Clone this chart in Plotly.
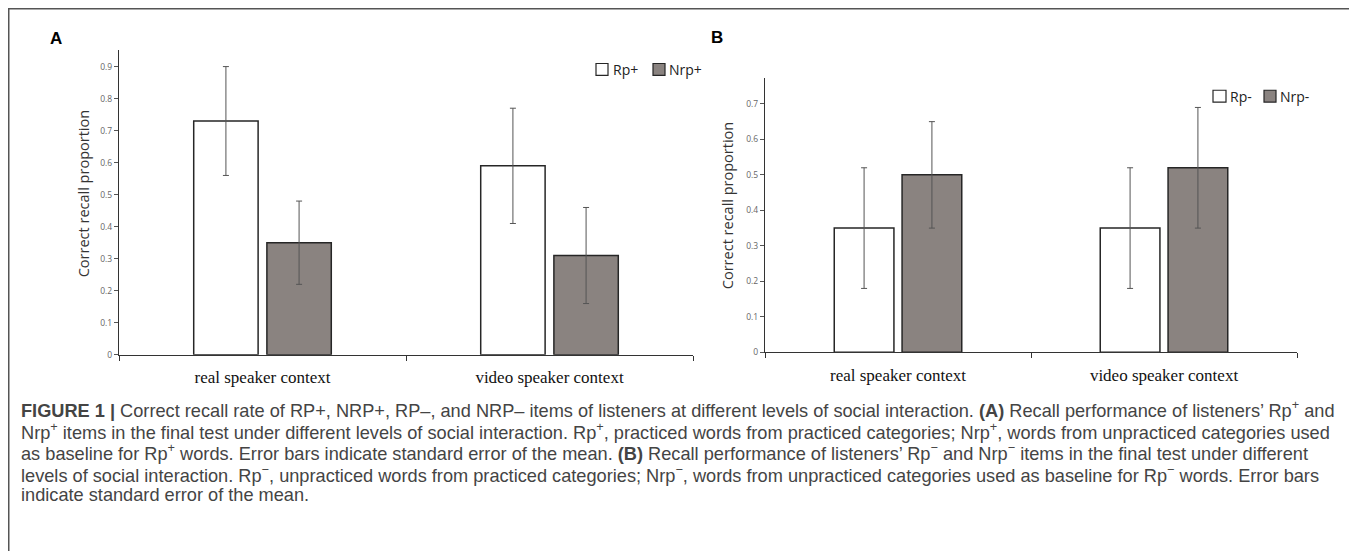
import plotly.graph_objects as go

# Page body has an 8px margin; figure is sized so the page fits the window exactly.
SCREEN_W, SCREEN_H = 1357, 559
OFF = 8
W, H = SCREEN_W - 2 * OFF, SCREEN_H - 2 * OFF

categories = ["real speaker context", "video speaker context"]

# Panel A
rp_plus = [0.73, 0.59]
rp_plus_err = [0.17, 0.18]
nrp_plus = [0.35, 0.31]
nrp_plus_err = [0.13, 0.15]
ticks_a = [0, 0.1, 0.2, 0.3, 0.4, 0.5, 0.6, 0.7, 0.8, 0.9]
ticklabels_a = ["0", "0.1", "0.2", "0.3", "0.4", "0.5", "0.6", "0.7", "0.8", "0.9"]

# Panel B
rp_minus = [0.35, 0.35]
rp_minus_err = [0.17, 0.17]
nrp_minus = [0.50, 0.52]
nrp_minus_err = [0.15, 0.17]
ticks_b = [0, 0.1, 0.2, 0.3, 0.4, 0.5, 0.6, 0.7]
ticklabels_b = ["0", "0.1", "0.2", "0.3", "0.4", "0.5", "0.6", "0.7"]

legend_a = ["Rp+", "Nrp+"]
legend_b = ["Rp-", "Nrp-"]

caption_lines = [
    "<b>FIGURE 1 |</b> Correct recall rate of RP+, NRP+, RP–, and NRP– items of listeners at different levels of social interaction. <b>(A)</b> Recall performance of listeners’ Rp<sup>+</sup> and",
    "Nrp<sup>+</sup> items in the final test under different levels of social interaction. Rp<sup>+</sup>, practiced words from practiced categories; Nrp<sup>+</sup>, words from unpracticed categories used",
    "as baseline for Rp<sup>+</sup> words. Error bars indicate standard error of the mean. <b>(B)</b> Recall performance of listeners’ Rp<sup>−</sup> and Nrp<sup>−</sup> items in the final test under different",
    "levels of social interaction. Rp<sup>−</sup>, unpracticed words from practiced categories; Nrp<sup>−</sup>, words from unpracticed categories used as baseline for Rp<sup>−</sup> words. Error bars",
    "indicate standard error of the mean.",
]

WHITE = "#ffffff"
GRAY = "#8a8380"
OUTLINE = "#262626"
ERR = "#555555"


def px(x):
    return (x - OFF) / W


def py(y):
    return 1 - (y - OFF) / H


fig = go.Figure()


def add_bar(x, y, err, name, color, xa, ya):
    fig.add_trace(go.Bar(
        x=x, y=y, name=name, xaxis=xa, yaxis=ya, showlegend=False,
        marker=dict(color=color, line=dict(color=OUTLINE, width=1.5)),
        error_y=dict(type="data", array=err, color=ERR, thickness=1, width=3),
    ))


add_bar(categories, rp_plus, rp_plus_err, legend_a[0], WHITE, "x", "y")
add_bar(categories, nrp_plus, nrp_plus_err, legend_a[1], GRAY, "x", "y")
add_bar(categories, rp_minus, rp_minus_err, legend_b[0], WHITE, "x2", "y2")
add_bar(categories, nrp_minus, nrp_minus_err, legend_b[1], GRAY, "x2", "y2")

xcommon = dict(
    type="category", showline=True, linecolor="#333333", linewidth=1.3,
    ticks="outside", tickson="boundaries", ticklen=5, tickcolor="#333333",
    showgrid=False, zeroline=False, ticklabelstandoff=7,
    tickfont=dict(family="Liberation Serif", size=17, color="#111111"),
)
ycommon = dict(
    showline=True, linecolor="#333333", linewidth=1.3, ticks="outside",
    ticklen=4, tickcolor="#555555", showgrid=False, zeroline=False,
    tickfont=dict(family="Open Sans", size=8.5, color="#666666"),
)

fig.update_layout(
    width=W, height=H, margin=dict(l=0, r=0, t=0, b=0),
    paper_bgcolor="white", plot_bgcolor="white",
    barmode="group", bargap=0.49, bargroupgap=0.12,
    xaxis=dict(domain=[px(119), px(693)], anchor="y", **xcommon),
    yaxis=dict(domain=[py(358), py(50)], anchor="x", range=[0, 0.953],
               tickvals=ticks_a, ticktext=ticklabels_a, **ycommon),
    xaxis2=dict(domain=[px(765), px(1297)], anchor="y2", **xcommon),
    yaxis2=dict(domain=[py(355.5), py(79)], anchor="x2", range=[0, 0.772],
                tickvals=ticks_b, ticktext=ticklabels_b, **ycommon),
    showlegend=False,
)

annotations = [
    dict(text="<b>A</b>", x=px(56), y=py(39), font=dict(family="Liberation Sans", size=17, color="#000")),
    dict(text="<b>B</b>", x=px(717), y=py(38), font=dict(family="Liberation Sans", size=17, color="#000")),
    dict(text="Correct recall proportion", x=px(83), y=py(196), textangle=-90,
         font=dict(family="Open Sans", size=14.5, color="#333333")),
    dict(text="Correct recall proportion", x=px(727), y=py(208), textangle=-90,
         font=dict(family="Open Sans", size=14.5, color="#333333")),
]
for a in annotations:
    a.update(xref="paper", yref="paper", showarrow=False, xanchor="center", yanchor="middle")

# Legend keys (box + label), drawn manually to match the tight original layout
legend_specs = [
    (legend_a[0], WHITE, 596, 608, 611, 70),
    (legend_a[1], GRAY, 653, 665, 667, 70),
    (legend_b[0], WHITE, 1213, 1226, 1228, 97),
    (legend_b[1], GRAY, 1264, 1276, 1278, 97),
]
for name, col, bx0, bx1, tx, cy in legend_specs:
    fig.add_shape(type="rect", xref="paper", yref="paper",
                  x0=px(bx0), x1=px(bx1), y0=py(cy + 6), y1=py(cy - 6),
                  line=dict(color=OUTLINE, width=1.2), fillcolor=col)
    annotations.append(dict(text=name, x=px(tx), y=py(cy), xref="paper", yref="paper",
                            showarrow=False, xanchor="left", yanchor="middle",
                            font=dict(family="Open Sans", size=14, color="#222222")))

caption_y = [413, 435, 456, 478, 500]
for line, yy in zip(caption_lines, caption_y):
    annotations.append(dict(
        text=line, x=px(19), y=py(yy), xref="paper", yref="paper", showarrow=False,
        xanchor="left", yanchor="middle",
        font=dict(family="Liberation Sans", size=18.2, color="#444444"),
    ))

fig.update_layout(annotations=annotations)

fig.add_shape(type="rect", xref="paper", yref="paper",
              x0=px(8.75), x1=px(1352), y0=py(590), y1=py(8.75),
              line=dict(color="#555555", width=1.5), fillcolor="rgba(0,0,0,0)", layer="below")

fig.write_html("out.html")
